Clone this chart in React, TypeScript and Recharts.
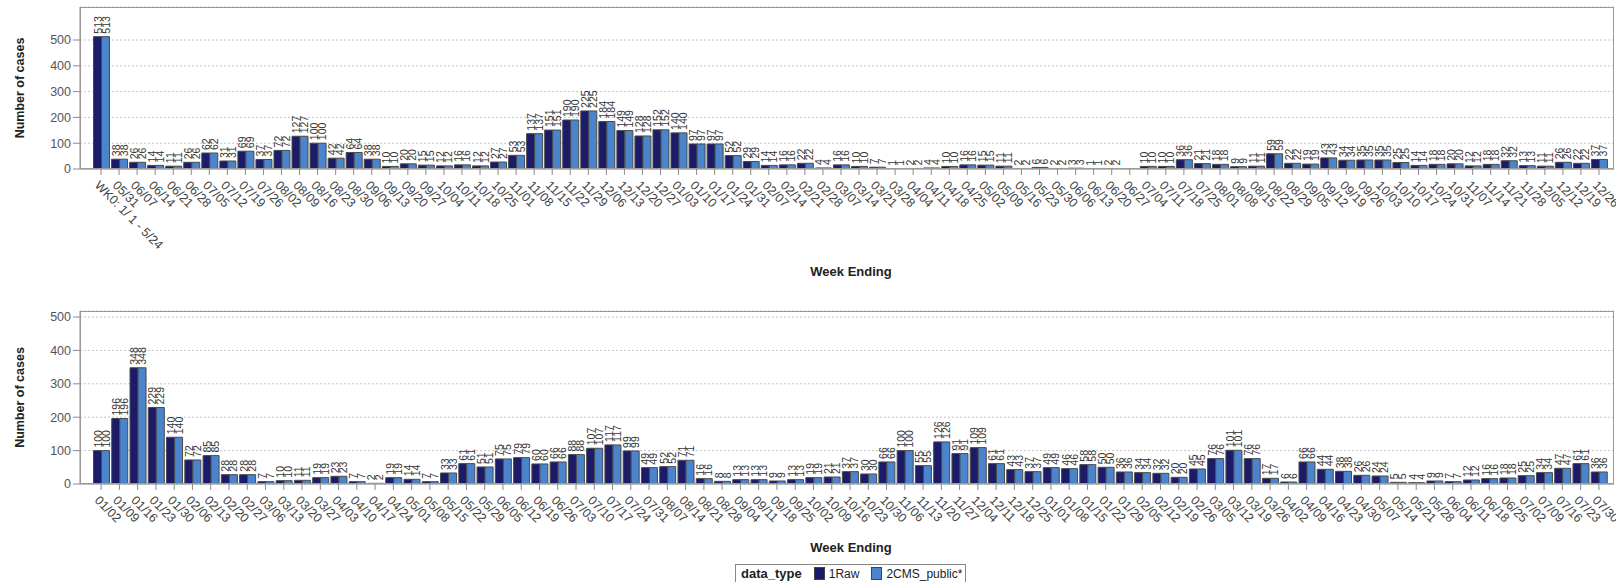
import React from "react";
import {
  Bar,
  BarChart,
  CartesianGrid,
  LabelList,
  XAxis,
  YAxis,
} from "recharts";

// top panel: WK0 + weekly 2020-05-31 .. 2021-12-26
const topWeeks = [
  "WK0: 1/ 1 - 5/24",
  "05/31", "06/07", "06/14", "06/21", "06/28", "07/05", "07/12", "07/19", "07/26",
  "08/02", "08/09", "08/16", "08/23", "08/30", "09/06", "09/13", "09/20", "09/27",
  "10/04", "10/11", "10/18", "10/25", "11/01", "11/08", "11/15", "11/22", "11/29",
  "12/06", "12/13", "12/20", "12/27",
  "01/03", "01/10", "01/17", "01/24", "01/31", "02/07", "02/14", "02/21", "02/28",
  "03/07", "03/14", "03/21", "03/28", "04/04", "04/11", "04/18", "04/25", "05/02",
  "05/09", "05/16", "05/23", "05/30", "06/06", "06/13", "06/20", "06/27", "07/04",
  "07/11", "07/18", "07/25", "08/01", "08/08", "08/15", "08/22", "08/29", "09/05",
  "09/12", "09/19", "09/26", "10/03", "10/10", "10/17", "10/24", "10/31", "11/07",
  "11/14", "11/21", "11/28", "12/05", "12/12", "12/19", "12/26",
];
const topRaw = [
  513, 38, 26, 14, 11, 26, 62, 31, 69, 37, 72, 127, 100, 42, 64, 38, 10, 20, 15, 12,
  16, 12, 27, 53, 137, 151, 190, 225, 184, 149, 128, 152, 140, 97, 97, 52, 29, 14, 16, 22,
  4, 16, 10, 7, 1, 2, 4, 10, 16, 15, 11, 2, 6, 2, 3, 1, 2, 0, 10, 10,
  36, 21, 18, 9, 11, 59, 22, 19, 43, 34, 35, 35, 25, 14, 18, 20, 12, 18, 32, 13,
  11, 26, 22, 37,
];
const topCms = [
  513, 38, 26, 14, 11, 26, 62, 31, 69, 37, 72, 127, 100, 42, 64, 38, 10, 20, 15, 12,
  16, 12, 27, 53, 137, 151, 190, 225, 184, 149, 128, 152, 140, 97, 97, 52, 29, 14, 16, 22,
  4, 16, 10, 7, 1, 2, 4, 10, 16, 15, 11, 2, 6, 2, 3, 1, 2, 0, 10, 10,
  36, 21, 18, 9, 11, 59, 22, 19, 43, 34, 35, 35, 25, 14, 18, 20, 12, 18, 32, 13,
  11, 26, 22, 37,
];

// bottom panel: weekly 2022-01-02 .. 2023-07-30
const bottomWeeks = [
  "01/02", "01/09", "01/16", "01/23", "01/30", "02/06", "02/13", "02/20", "02/27",
  "03/06", "03/13", "03/20", "03/27", "04/03", "04/10", "04/17", "04/24", "05/01",
  "05/08", "05/15", "05/22", "05/29", "06/05", "06/12", "06/19", "06/26", "07/03",
  "07/10", "07/17", "07/24", "07/31", "08/07", "08/14", "08/21", "08/28", "09/04",
  "09/11", "09/18", "09/25", "10/02", "10/09", "10/16", "10/23", "10/30", "11/06",
  "11/13", "11/20", "11/27", "12/04", "12/11", "12/18", "12/25",
  "01/01", "01/08", "01/15", "01/22", "01/29", "02/05", "02/12", "02/19", "02/26",
  "03/05", "03/12", "03/19", "03/26", "04/02", "04/09", "04/16", "04/23", "04/30",
  "05/07", "05/14", "05/21", "05/28", "06/04", "06/11", "06/18", "06/25", "07/02",
  "07/09", "07/16", "07/23", "07/30",
];
const bottomRaw = [
  100, 196, 348, 229, 140, 72, 85, 28, 28, 7, 10, 11, 19, 23, 7, 2, 19, 14, 7, 33,
  61, 51, 75, 79, 60, 66, 88, 107, 117, 99, 49, 52, 71, 16, 8, 13, 13, 9, 13, 19,
  21, 37, 30, 66, 100, 55, 126, 91, 109, 61, 43, 37, 49, 46, 58, 50, 36, 34, 32, 20,
  45, 76, 101, 76, 17, 6, 66, 44, 38, 26, 24, 5, 4, 9, 7, 12, 16, 18, 25, 34,
  47, 61, 36,
];
const bottomCms = [
  100, 196, 348, 229, 140, 72, 85, 28, 28, 7, 10, 11, 19, 23, 7, 2, 19, 14, 7, 33,
  61, 51, 75, 79, 60, 66, 88, 107, 117, 99, 49, 52, 71, 16, 8, 13, 13, 9, 13, 19,
  21, 37, 30, 66, 100, 55, 126, 91, 109, 61, 43, 37, 49, 46, 58, 50, 36, 34, 32, 20,
  45, 76, 101, 76, 17, 6, 66, 44, 38, 26, 24, 5, 4, 9, 7, 12, 16, 18, 25, 34,
  47, 61, 36,
];

const yTicks = [0, 100, 200, 300, 400, 500];

const RAW = "#1b1b6a";
const CMS = "#4a84cc";
const FONT = "'Liberation Sans', Arial, sans-serif";
const PLOT_LEFT = 80;
const PLOT_RIGHT = 1614;

const topData = topWeeks.map((week, i) => ({ week, raw: topRaw[i], cms: topCms[i] }));
const bottomData = bottomWeeks.map((week, i) => ({ week, raw: bottomRaw[i], cms: bottomCms[i] }));

const VLabel = (props: any) => {
  const { x, y, width, value } = props;
  if (x == null || y == null) return null;
  return (
    <text
      transform={`translate(${Number(x) + Number(width) / 2},${Number(y) - 3}) rotate(-90)`}
      textAnchor="start"
      dominantBaseline="central"
      fontSize={10.5}
      fontFamily={FONT}
      fill="#333"
    >
      {value}
    </text>
  );
};

const SlantTick = (props: any) => {
  const { x, y, payload } = props;
  return (
    <g transform={`translate(${x - 4},${y + 6})`}>
      <text
        transform="rotate(45)"
        textAnchor="start"
        dy="0.35em"
        fontSize={12.5}
        fontFamily={FONT}
        fill="#444"
      >
        {payload.value}
      </text>
    </g>
  );
};

const YTitle = (props: any) => {
  const vb = props.viewBox || { y: 0, height: 0 };
  return (
    <text
      transform={`translate(20,${vb.y + vb.height / 2}) rotate(-90)`}
      textAnchor="middle"
      dominantBaseline="central"
      fontSize={12.5}
      fontWeight="bold"
      fontFamily={FONT}
      fill="#222"
    >
      Number of cases
    </text>
  );
};

const XTitle = (props: any) => {
  const vb = props.viewBox || { x: 0, y: 0, width: 0, height: 0 };
  return (
    <text
      x={vb.x + vb.width / 2 + 4}
      y={vb.y + vb.height - 11}
      textAnchor="middle"
      dominantBaseline="central"
      fontSize={13}
      fontWeight="bold"
      fontFamily={FONT}
      fill="#222"
    >
      Week Ending
    </text>
  );
};

function Panel({
  data,
  height,
  top,
  xHeight,
  yMax,
}: {
  data: { week: string; raw: number; cms: number }[];
  height: number;
  top: number;
  xHeight: number;
  yMax: number;
}) {
  const plotH = height - top - xHeight;
  return (
    <div style={{ position: "relative", width: 1616, height }}>
      <BarChart
        width={1616}
        height={height}
        data={data}
        margin={{ top, right: 1616 - PLOT_RIGHT, bottom: 0, left: 0 }}
        barCategoryGap={1.5}
        barGap={0}
      >
        <CartesianGrid vertical={false} strokeDasharray="2 2" stroke="#c4c4c4" />
        <XAxis
          dataKey="week"
          interval={0}
          height={xHeight}
          padding={{ left: 12, right: 6 }}
          tick={<SlantTick />}
          tickSize={6}
          stroke="#8a8a8a"
          label={<XTitle />}
        />
        <YAxis
          width={PLOT_LEFT}
          domain={[0, yMax]}
          ticks={yTicks}
          allowDataOverflow
          tickSize={7}
          stroke="#8a8a8a"
          tick={{ fontSize: 12.5, fontFamily: FONT, fill: "#555" }}
          label={<YTitle />}
        />
        <Bar dataKey="raw" fill={RAW} stroke="#4a4a4a" strokeWidth={1} isAnimationActive={false}>
          <LabelList dataKey="raw" content={<VLabel />} />
        </Bar>
        <Bar dataKey="cms" fill={CMS} stroke="#4a4a4a" strokeWidth={1} isAnimationActive={false}>
          <LabelList dataKey="cms" content={<VLabel />} />
        </Bar>
      </BarChart>
      {/* plot frame */}
      <div
        style={{
          position: "absolute",
          left: PLOT_LEFT,
          top,
          width: PLOT_RIGHT - PLOT_LEFT,
          height: plotH,
          border: "1px solid #9a9a9a",
          boxSizing: "border-box",
          pointerEvents: "none",
        }}
      />
    </div>
  );
}

const swatch = (color: string) => (
  <span
    style={{
      display: "inline-block",
      width: 9,
      height: 11,
      background: color,
      border: "1px solid #444",
      margin: "0 4px 0 12px",
    }}
  />
);

export default function App() {
  return (
    <div style={{ position: "absolute", left: 0, top: 0, width: 1616, height: 582, background: "#fff", fontFamily: FONT, overflow: "hidden" }}>
      <div style={{ position: "absolute", left: 0, top: 0 }}>
        <Panel data={topData} height={282} top={7} xHeight={113} yMax={628} />
      </div>
      <div style={{ position: "absolute", left: 0, top: 290 }}>
        <Panel data={bottomData} height={268} top={21} xHeight={74} yMax={518} />
      </div>
      <div
        style={{
          position: "absolute",
          left: 735,
          top: 564,
          width: 231,
          height: 22,
          border: "1px solid #888",
          boxSizing: "border-box",
          fontSize: 12,
          display: "flex",
          alignItems: "center",
          paddingLeft: 5,
          paddingBottom: 3,
          color: "#222",
        }}
      >
        <span style={{ fontWeight: "bold", fontSize: 13 }}>data_type</span>
        {swatch(RAW)}
        <span>1Raw</span>
        {swatch(CMS)}
        <span>2CMS_public*</span>
      </div>
    </div>
  );
}
